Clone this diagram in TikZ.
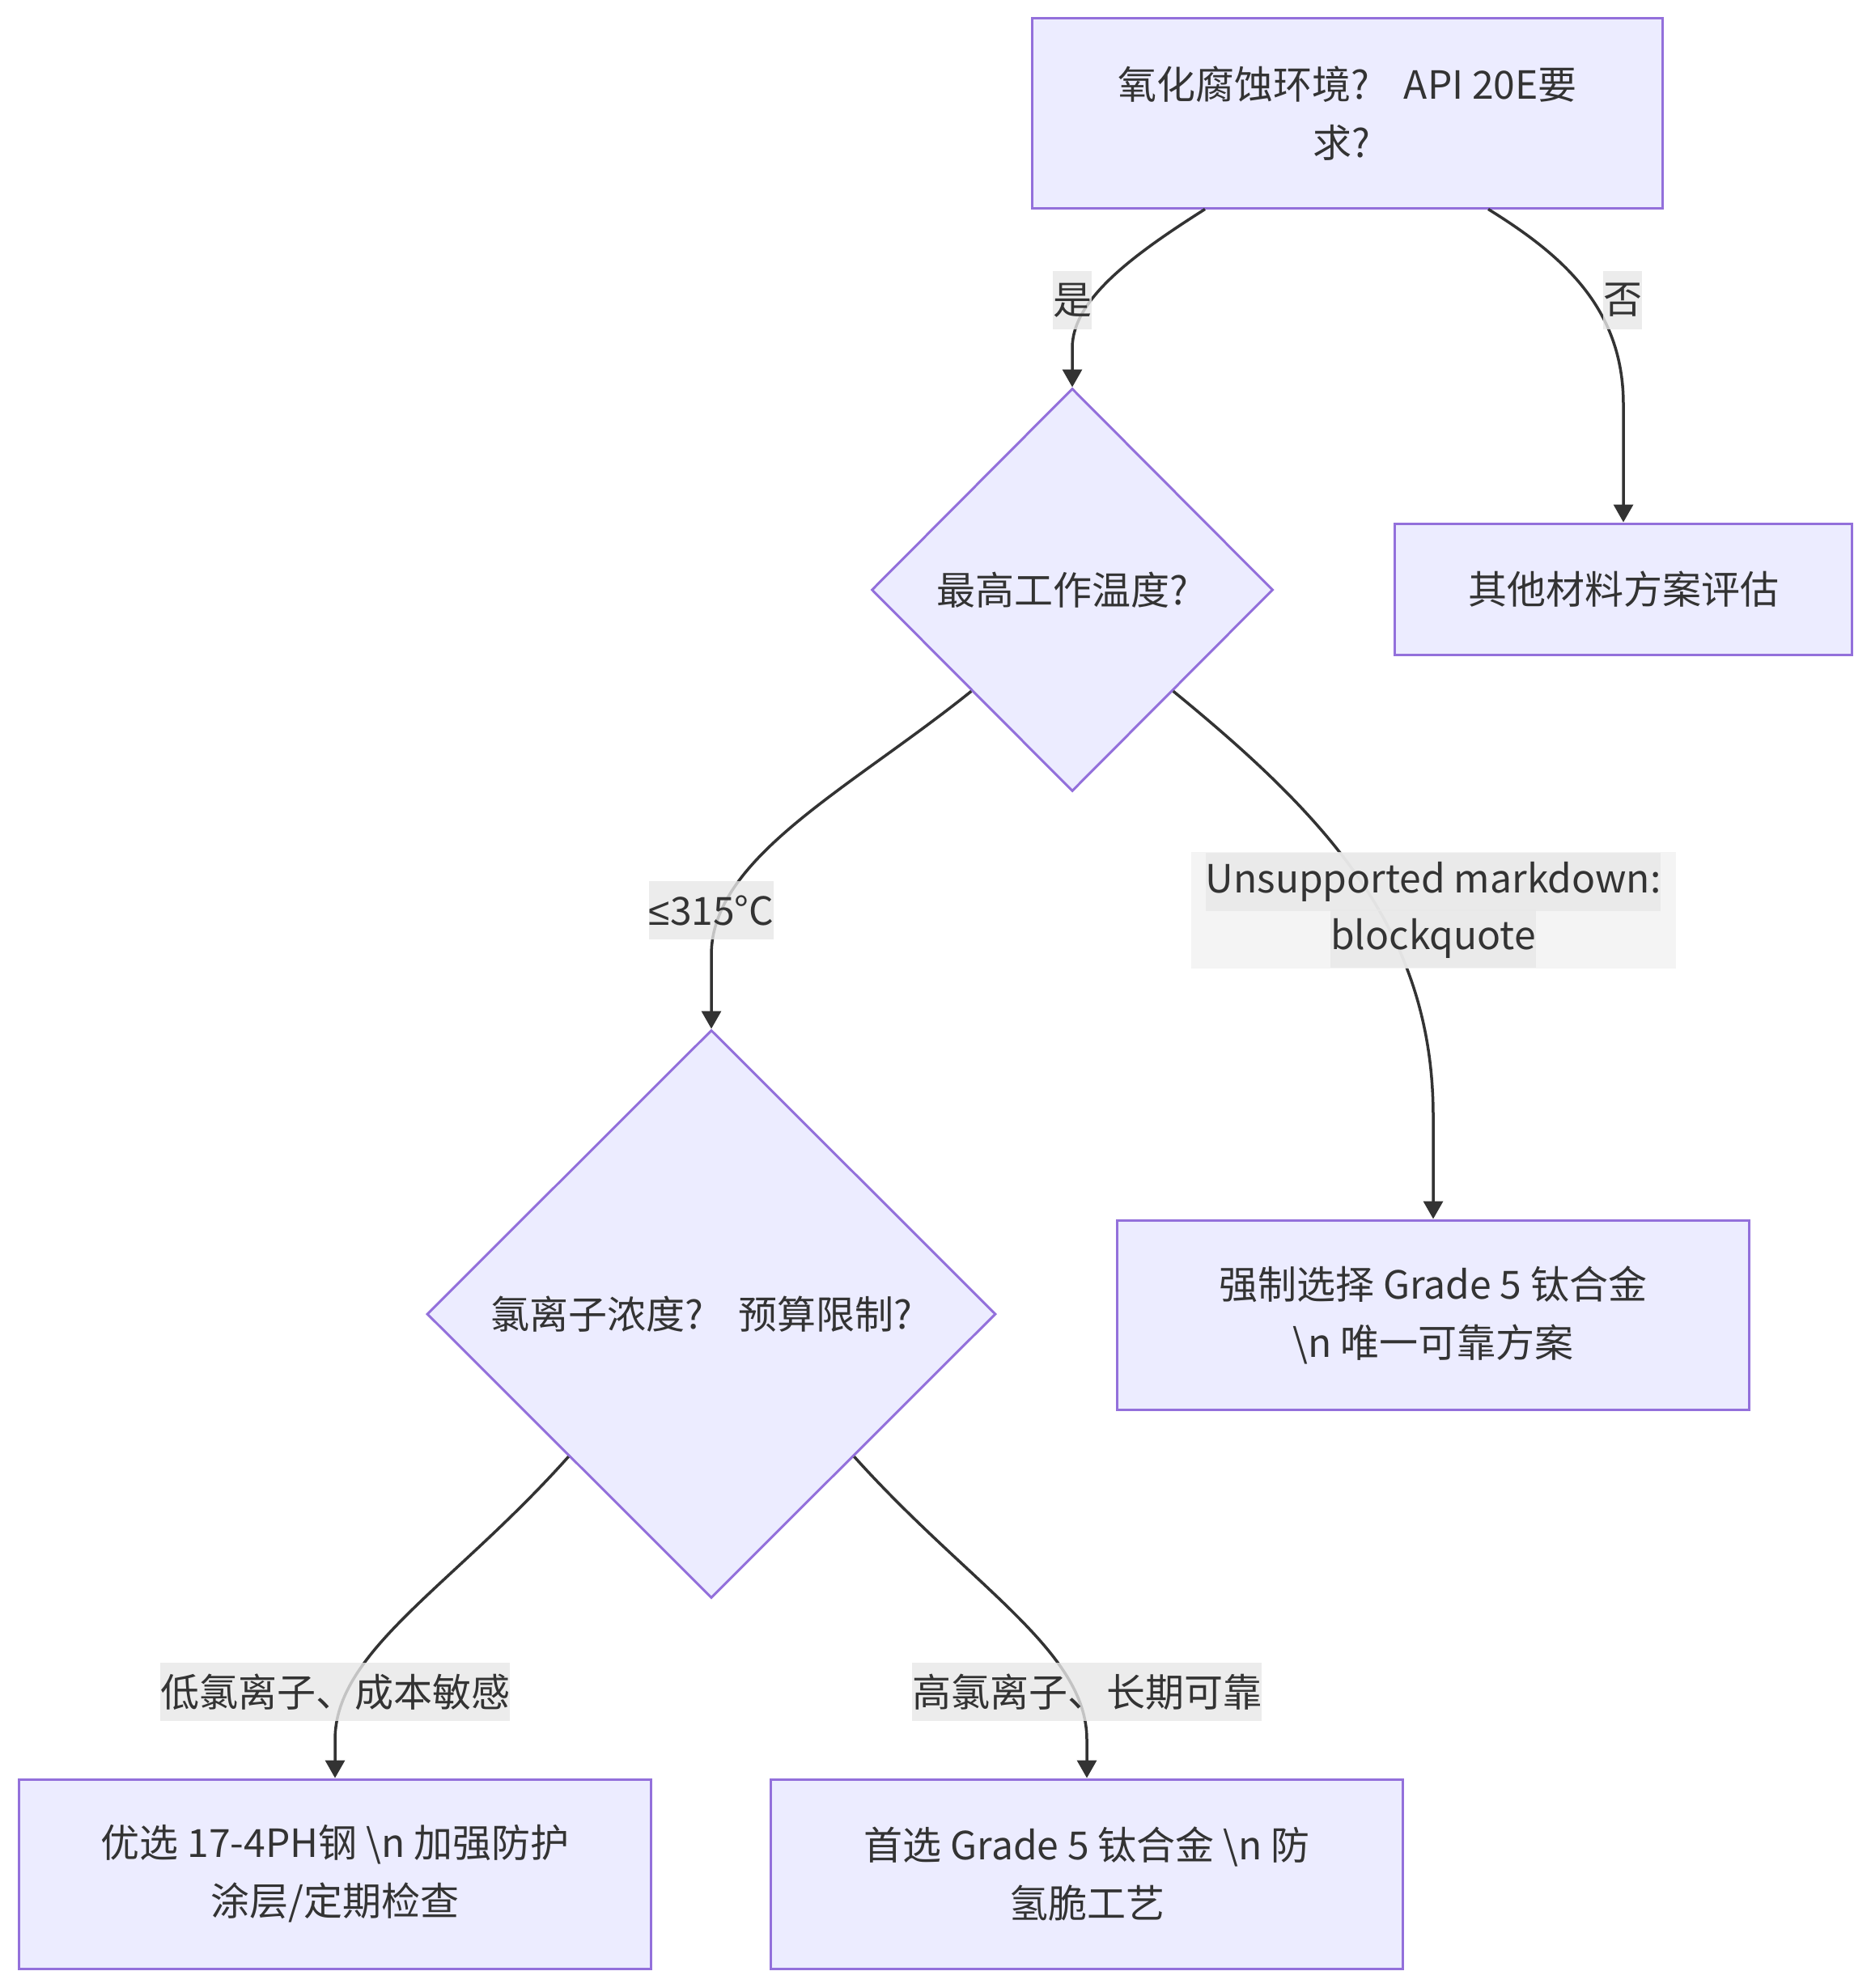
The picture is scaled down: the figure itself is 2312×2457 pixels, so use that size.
\documentclass[tikz,border=0pt]{standalone}
\usepackage{fontspec}
\setmainfont{Noto Sans CJK SC}
\newfontfamily\symfont{Liberation Sans}
\usetikzlibrary{shapes.geometric,arrows.meta}
\definecolor{nodefill}{HTML}{ECECFF}
\definecolor{nodeline}{HTML}{9370DB}
\definecolor{ink}{HTML}{333333}
\definecolor{lblfill}{HTML}{E8E8E8}
\definecolor{qfill}{HTML}{F2F2F2}
\tikzset{
  txt/.style={font=\fontsize{48pt}{72pt}\selectfont, text=ink},
  procbox/.style={txt, rectangle, draw=nodeline, fill=nodefill, line width=3pt, align=center, inner sep=0pt},
  decision/.style={txt, diamond, draw=nodeline, fill=nodefill, line width=3pt, inner sep=0pt, aspect=1},
  edge/.style={draw=ink, line width=3.5pt, -{Triangle[length=22pt,width=24pt]}},
  elabel/.style={txt, fill=lblfill, fill opacity=0.8, text opacity=1, inner sep=0pt, minimum height=72pt},
}
\begin{document}
\begin{tikzpicture}[x=1pt,y=-1pt]
\useasboundingbox (0,0) rectangle (2312,2457);
\fill[white] (0,0) rectangle (2312,2457);

% nodes
\node[procbox, minimum width=779pt, minimum height=234pt] (n1) at (1665,140) {氧化腐蚀环境?\hspace{0.6em} API 20E要\\求?\hspace*{0.3em}};
\node[decision, minimum width=496pt, minimum height=498pt] (n2) at (1325,729) {最高工作温度?\hspace*{0.5em}};
\node[procbox, minimum width=565pt, minimum height=162pt] (n3) at (2006,728) {其他材料方案评估};
\node[decision, minimum width=703pt, minimum height=702pt] (n4) at (879,1624) {氯离子浓度?\hspace{0.6em} 预算限制?\hspace*{0.5em}};
\node[procbox, minimum width=781pt, minimum height=234pt] (n5) at (1771,1625) {强制选择 Grade 5 钛合金\\\textbackslash n 唯一可靠方案};
\node[procbox, minimum width=781pt, minimum height=234pt] (n6) at (414,2316) {优选 17-4PH钢 \textbackslash n 加强防护\\涂层/定期检查};
\node[procbox, minimum width=781pt, minimum height=234pt] (n7) at (1343,2316) {首选 Grade 5 钛合金 \textbackslash n 防\\氢脆工艺};

% connectors
\draw[edge] ([xshift=-176pt]n1.south) .. controls (1400,315) and (1325,370) .. (1325,430) -- (n2.north);
\draw[edge] ([xshift=174pt]n1.south) .. controls (1930,315) and (2006,380) .. (2006,500) -- (n3.north);
\draw[edge] (n2.south west) .. controls (1050,975) and (879,1060) .. (879,1180) -- (n4.north);
\draw[edge] (n2.south east) .. controls (1640,1010) and (1771,1150) .. (1771,1380) -- (n5.north);
\draw[edge] (n4.south west) .. controls (560,1960) and (414,2040) .. (414,2150) -- (n6.north);
\draw[edge] (n4.south east) .. controls (1199,1960) and (1343,2040) .. (1343,2150) -- (n7.north);

% edge labels
\node[elabel] (l1) at (1325,371) {是};
\node[elabel] (l2) at (2005,371) {否};
\node[elabel] (l3) at (879,1125) {{\symfont ≤}315°C};
\node[fill=qfill, fill opacity=0.8, inner sep=0pt, minimum width=599pt, minimum height=144pt] (l4) at (1771,1125) {};
\node[elabel, anchor=south] (l4a) at ([yshift=-1pt]l4.center) {Unsupported markdown:~};
\node[elabel, anchor=north] (l4b) at ([yshift=1pt]l4.center) {blockquote};
\node[elabel] (l5) at (414,2091) {低氯离子、成本敏感};
\node[elabel] (l6) at (1343,2091) {高氯离子、长期可靠};
\end{tikzpicture}
\end{document}
